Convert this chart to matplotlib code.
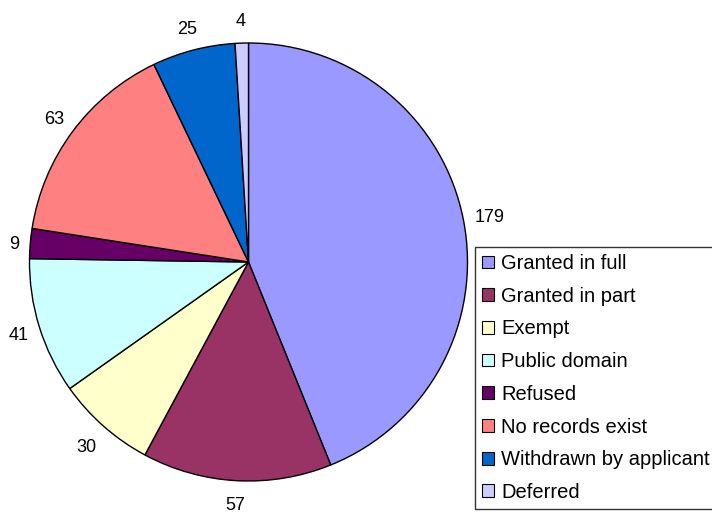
import matplotlib
matplotlib.use("Agg")
import matplotlib.pyplot as plt
import numpy as np

categories = ["Granted in full", "Granted in part", "Exempt", "Public domain",
              "Refused", "No records exist", "Withdrawn by applicant", "Deferred"]
values = [179, 57, 30, 41, 9, 63, 25, 4]
colors = ["#9999FF", "#993366", "#FFFFCC", "#CCFFFF", "#660066", "#FF8080", "#0066CC", "#CCCCFF"]

plt.rcParams['font.family'] = ['Liberation Sans', 'DejaVu Sans']

W, H = 712, 514
fig = plt.figure(figsize=(W / 100, H / 100), dpi=100)
cx, cy, r = 248.5, 262, 219
ax = fig.add_axes([(cx - r) / W, (H - cy - r) / H, 2 * r / W, 2 * r / H])
wedges, texts = ax.pie(values, colors=colors, startangle=90, counterclock=False,
                       labels=[str(v) for v in values], labeldistance=1.1,
                       wedgeprops=dict(edgecolor="black", linewidth=1.0),
                       textprops=dict(fontsize=13, color="black"))
ax.set_xlim(-1, 1)
ax.set_ylim(-1, 1)
ax.set_aspect("equal")
ax.axis("off")

# place labels so that their box sits a fixed gap outside the rim
fig.canvas.draw()
renderer = fig.canvas.get_renderer()
gap = 11.0
for w, t in zip(wedges, texts):
    t.set_ha("center")
    t.set_va("center_baseline")
    ang = np.deg2rad((w.theta1 + w.theta2) / 2)
    dx, dy = np.cos(ang), np.sin(ang)
    bb = t.get_window_extent(renderer)
    hw, hh = bb.width / 2, bb.height * 0.72
    cands = []
    if abs(dx) > 1e-6:
        cands.append(hw / abs(dx))
    if abs(dy) > 1e-6:
        cands.append(hh / abs(dy))
    off = min(cands)
    d = (r + gap + off) / r
    t.set_position((d * dx, d * dy))

leg = fig.legend(wedges, categories, loc="upper left",
                 bbox_to_anchor=(475 / W, 1 - 247 / H),
                 fontsize=14.5, frameon=True, fancybox=False,
                 handlelength=0.6, handleheight=0.6, handletextpad=0.35,
                 labelspacing=0.68, borderpad=0.35, borderaxespad=0)
leg.get_frame().set_edgecolor("black")
leg.get_frame().set_linewidth(1.0)
for h in leg.legend_handles:
    h.set_edgecolor("black")
    h.set_linewidth(0.8)

fig.savefig("out.png", dpi=100)
